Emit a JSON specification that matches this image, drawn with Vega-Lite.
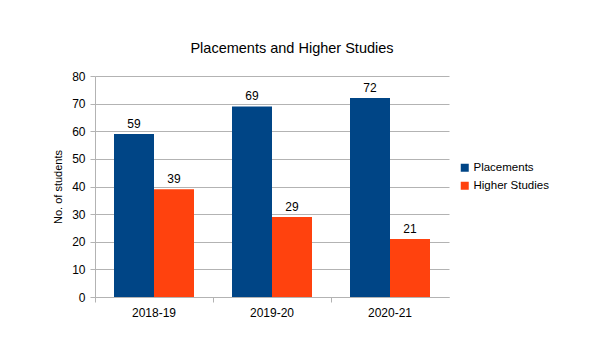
{
  "$schema": "https://vega.github.io/schema/vega-lite/v6.json",
  "width": 354,
  "height": 221,
  "autosize": "none",
  "padding": {"left": 95, "top": 76, "right": 141, "bottom": 59},
  "background": "white",
  "config": {"view": {"stroke": null}, "font": "Liberation Sans"},
  "title": {"text": "Placements and Higher Studies", "fontSize": 14.5, "font": "Liberation Sans", "fontWeight": "normal", "color": "#000000", "dx": 20, "offset": 14, "anchor": "middle"},
  "data": {"values": [
    {"year": "2018-19", "series": "Placements", "value": 59},
    {"year": "2018-19", "series": "Higher Studies", "value": 39},
    {"year": "2019-20", "series": "Placements", "value": 69},
    {"year": "2019-20", "series": "Higher Studies", "value": 29},
    {"year": "2020-21", "series": "Placements", "value": 72},
    {"year": "2020-21", "series": "Higher Studies", "value": 21}
  ]},
  "encoding": {
    "x": {"field": "year", "type": "nominal", "scale": {"paddingInner": 0, "paddingOuter": 0},
      "axis": {"title": null, "labelAngle": 0, "bandPosition": 0, "labelFontSize": 12, "labelColor": "#000000", "labelPadding": 5, "domainColor": "#b3b3b3", "tickColor": "#b3b3b3", "tickSize": 5, "labelFont": "Liberation Sans"}},
    "xOffset": {"field": "series", "type": "nominal", "sort": ["Placements", "Higher Studies"], "scale": {"paddingOuter": 0.475, "paddingInner": 0}},
    "y": {"field": "value", "type": "quantitative", "scale": {"domain": [0, 80]},
      "axis": {"title": "No. of students", "values": [0, 10, 20, 30, 40, 50, 60, 70, 80], "labelFontSize": 12, "labelColor": "#000000", "labelPadding": 5, "tickSize": 5, "domainColor": "#b3b3b3", "tickColor": "#b3b3b3", "gridColor": "#b3b3b3", "titleFontSize": 11, "titleFontWeight": "normal", "titleColor": "#000000", "titlePadding": 8, "labelFont": "Liberation Sans", "titleFont": "Liberation Sans"}},
    "color": {"field": "series", "type": "nominal", "scale": {"domain": ["Placements", "Higher Studies"], "range": ["#004586", "#ff420e"]},
      "legend": {"title": null, "orient": "none", "legendX": 364, "legendY": 86, "symbolType": "square", "symbolSize": 64, "symbolStrokeWidth": 0, "labelFontSize": 11.5, "labelColor": "#000000", "labelFont": "Liberation Sans", "rowPadding": 5, "labelOffset": 3}}
  },
  "layer": [
    {"mark": {"type": "bar"}},
    {"mark": {"type": "text", "baseline": "bottom", "dy": -3, "fontSize": 12, "color": "#000000", "font": "Liberation Sans"}, "encoding": {"text": {"field": "value", "type": "quantitative"}, "color": {"value": "#000000"}}}
  ]
}
